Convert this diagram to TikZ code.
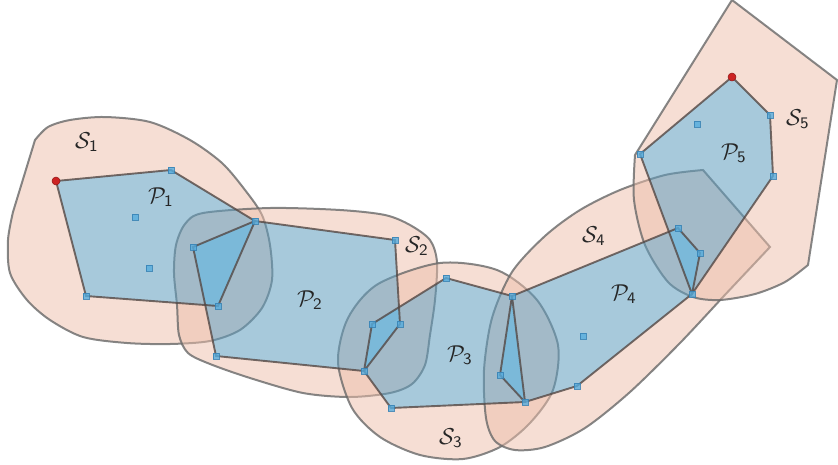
\documentclass[tikz,border=0pt]{standalone}
\usepackage{amsmath,amssymb}
\usepackage{tikz}
\usetikzlibrary{calc}
\definecolor{salmon}{RGB}{237,190,170}
\definecolor{polyblue}{RGB}{95,157,190}
\definecolor{deepblue}{RGB}{120,192,228}
\definecolor{rimgray}{RGB}{105,105,105}
\definecolor{edgebrown}{RGB}{85,72,68}
\definecolor{markblue}{RGB}{85,172,222}
\definecolor{markedge}{RGB}{55,130,180}
\definecolor{dotred}{RGB}{205,35,35}
\tikzset{
  line cap=round,
  line join=round,
  ringfill/.style={fill=salmon, fill opacity=0.5, even odd rule},
  rim/.style={draw=rimgray, draw opacity=0.8, line width=2pt},
  polyfill/.style={fill=polyblue, fill opacity=0.55},
  overlap/.style={fill=deepblue, fill opacity=0.6},
  polyedge/.style={draw=edgebrown, draw opacity=0.8, line width=1.9pt},
  vtx/.style={rectangle, minimum size=6pt, inner sep=0pt, fill=markblue, fill opacity=0.8, draw=markedge, draw opacity=0.85, line width=0.5pt},
  startdot/.style={circle, minimum size=8pt, inner sep=0pt, fill=dotred, draw=dotred!70!black, line width=0.5pt},
  lbl/.style={scale=2.3, inner sep=0pt, text=black!85}
}
% outer regions S_i
\newcommand{\regA}{plot[smooth] coordinates {(35,140) (48,127) (70,120) (105,117) (150,122) (190,140) (222,163) (245,190) (262,215) (270,245) (272,280) (262,308) (240,330) (210,341) (170,344) (127,343) (83,337) (50,320) (27,300) (10,273) (8,240) (13,212)} -- cycle}
\newcommand{\regB}{plot[smooth cycle] coordinates {(203,213) (270,208) (340,210) (385,215) (410,225) (430,240) (437,262) (435,300) (430,335) (425,365) (412,384) (390,393) (350,397) (303,393) (250,378) (210,364) (188,353) (179,335) (177,305) (174,273) (176,245) (185,224)}}
\newcommand{\regC}{plot[smooth cycle] coordinates {(440,263) (497,270) (537,300) (558,345) (553,390) (530,423) (500,447) (463,459) (420,455) (380,437) (352,408) (338,362) (348,318) (378,284)}}
\newcommand{\regD}{(703,170) -- (770,247) -- (722,298) -- plot[smooth] coordinates {(722,298) (680,343) (630,392) (585,428) (545,447) (515,450) (495,441) (486,418) (484,370) (492,318) (512,272) (545,236) (580,210) (620,190) (665,175) (703,170)} -- cycle}
\newcommand{\regE}{(732,0) -- (837,80) -- (808,265) -- plot[smooth] coordinates {(808,265) (785,282) (755,294) (720,300) (693,297) (668,282) (645,245) (634,200) (635,155)} -- cycle}
% inner polygons P_i
\newcommand{\polA}{(a0) -- (a1) -- (a2) -- (a3) -- (a4) -- cycle}
\newcommand{\polB}{(b0) -- (a2) -- (b1) -- (b2) -- (b3) -- (b4) -- cycle}
\newcommand{\polC}{(b3) -- (c0) -- (c1) -- (c2) -- (c3) -- (c4) -- cycle}
\newcommand{\polD}{(c2) -- (d0) -- (d1) -- (d2) -- (d3) -- (c3) -- (d4) -- cycle}
\newcommand{\polE}{(e0) -- (e1) -- (e2) -- (d2) -- (e3) -- cycle}

\begin{document}
\begin{tikzpicture}[x=1pt,y=-1pt]
  \useasboundingbox (0,0) rectangle (838,464);

  \coordinate (a0) at (56,181);  \coordinate (a1) at (171,170);
  \coordinate (a2) at (255,221); \coordinate (a3) at (218,306);
  \coordinate (a4) at (86,296);  \coordinate (a5) at (135,217);
  \coordinate (a6) at (149,268);
  \coordinate (b0) at (193,247); \coordinate (b1) at (395,240);
  \coordinate (b2) at (400,324); \coordinate (b3) at (364,371);
  \coordinate (b4) at (216,356);
  \coordinate (c0) at (372,324); \coordinate (c1) at (446,278);
  \coordinate (c2) at (512,296); \coordinate (c3) at (525,402);
  \coordinate (c4) at (391,408);
  \coordinate (d0) at (678,228); \coordinate (d1) at (700,253);
  \coordinate (d2) at (692,294); \coordinate (d3) at (577,386);
  \coordinate (d4) at (500,375); \coordinate (d5) at (583,336);
  \coordinate (e0) at (732,77);  \coordinate (e1) at (770,115);
  \coordinate (e2) at (773,176); \coordinate (e3) at (640,154);
  \coordinate (e4) at (697,124);

  % regions without their own polygon
  \path[ringfill] \regA \polA;  \draw[rim] \regA;
  \path[ringfill] \regB \polB;  \draw[rim] \regB;
  \path[ringfill] \regC \polC;  \draw[rim] \regC;
  \path[ringfill] \regD \polD;  \draw[rim] \regD;
  \path[ringfill] \regE \polE;  \draw[rim] \regE;

  % polygons
  \foreach \q in {\polA,\polB,\polC,\polD,\polE}
    \path[polyfill] \q;
  \begin{scope} \clip \polA; \path[overlap] \polB; \end{scope}
  \begin{scope} \clip \polB; \path[overlap] \polC; \end{scope}
  \begin{scope} \clip \polC; \path[overlap] \polD; \end{scope}
  \begin{scope} \clip \polD; \path[overlap] \polE; \end{scope}
  \foreach \q in {\polB,\polA,\polC,\polD,\polE}
    \path[polyedge] \q;

  \foreach \p in {a1,a2,a3,a4,a5,a6,b0,b1,b2,b3,b4,c0,c1,c2,c3,c4,d0,d1,d2,d3,d4,d5,e1,e2,e3,e4}
    \node[vtx] (m-\p) at (\p) {};
  \node[startdot] (m-a0) at (a0) {};
  \node[startdot] (m-e0) at (e0) {};

  \node[lbl] (lS1) at (87,142)  {$\mathcal{S}_{\mathsf{1}}$};
  \node[lbl] (lP1) at (161,197) {$\mathcal{P}_{\mathsf{1}}$};
  \node[lbl] (lS2) at (417,246) {$\mathcal{S}_{\mathsf{2}}$};
  \node[lbl] (lP2) at (310,300) {$\mathcal{P}_{\mathsf{2}}$};
  \node[lbl] (lP3) at (460,355) {$\mathcal{P}_{\mathsf{3}}$};
  \node[lbl] (lS3) at (451,438) {$\mathcal{S}_{\mathsf{3}}$};
  \node[lbl] (lS4) at (594,236) {$\mathcal{S}_{\mathsf{4}}$};
  \node[lbl] (lP4) at (624,294) {$\mathcal{P}_{\mathsf{4}}$};
  \node[lbl] (lP5) at (734,153) {$\mathcal{P}_{\mathsf{5}}$};
  \node[lbl] (lS5) at (798,119) {$\mathcal{S}_{\mathsf{5}}$};
\end{tikzpicture}
\end{document}
